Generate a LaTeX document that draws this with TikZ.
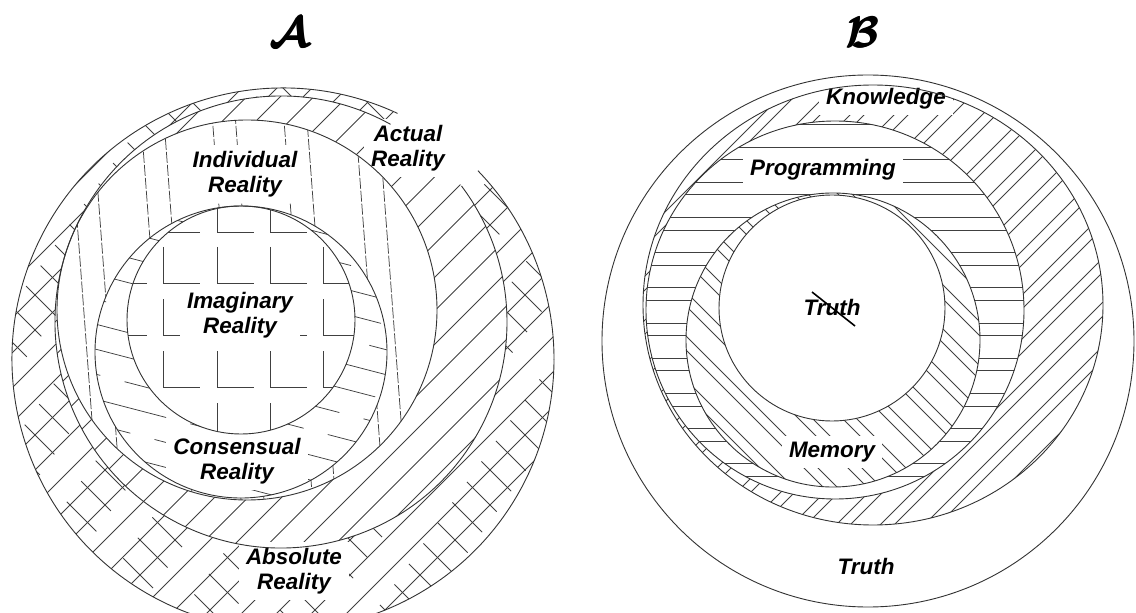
\documentclass[tikz,border=0pt]{standalone}
\usepackage{amsmath}
\usepackage{fontspec}
\setmainfont{Liberation Sans}
\begin{document}
\begin{tikzpicture}[x=1bp,y=-1bp,
  outline/.style={line width=0.9bp, draw=black!80},
  hatch/.style={line width=0.75bp, draw=black!75},
  lab/.style={font=\fontsize{22.5}{25}\selectfont\bfseries\itshape, align=center,
    fill=white, inner xsep=7bp, inner ysep=6bp, text=black},
  ttl/.style={scale=4.3, text=black}]
\useasboundingbox (0,0) rectangle (1136,613);

% ================= Panel A =================
% Absolute reality: cross-hatch between the two outer circles, open at upper right
\begin{scope}[even odd rule]
  \clip (283,359) circle[radius=271] (281,322) circle[radius=226];
  \clip (283,359) -- (714,-58) -- (1200,-58) -- (1200,900) -- (-300,900)
        -- (-300,-300) -- (537,-300) -- (537,-185) -- cycle;
  \foreach \k in {-6,...,18}
    \draw[hatch] ({435+35*\k-700},700) -- ({435+35*\k+100},-100);
  \foreach \k in {0,...,23} {
    \pgfmathsetmacro\ph{mod(\k*29,80)}
    \draw[hatch, dash pattern=on 42bp off 38bp, dash phase=\ph bp]
      ({-470+35*\k-100},-100) -- ({-470+35*\k+700},700);
  }
\end{scope}

% Actual reality: diagonal hatch
\begin{scope}[even odd rule]
  \clip (281,322) circle[radius=226] (247,310) circle[radius=190];
  \foreach \k in {-4,...,17}
    \draw[hatch] ({377+33.5*\k-700},700) -- ({377+33.5*\k+100},-100);
\end{scope}

% Individual reality: near-vertical broken lines in pairs
\begin{scope}[even odd rule]
  \clip (247,310) circle[radius=190] (241,352) circle[radius=146];
  \foreach \xa in {11.5,34.5,83,106,154.5,177.5,226,249,297.5,320.5,369,392,440,463}
    \draw[hatch, dash pattern=on 11bp off 2bp] ({\xa-15},100) -- ({\xa+16.5},520);
\end{scope}

% Consensual reality: slanted dashed lines
\begin{scope}[even odd rule]
  \clip (241,352) circle[radius=146] (241,320) circle[radius=114];
  \foreach \k in {-7,...,6} {
    \pgfmathsetmacro\ph{mod(\k*37+300,105)}
    \draw[hatch, dash pattern=on 80bp off 25bp, dash phase=\ph bp]
      (80,{362+25*\k-41.9}) -- (400,{362+25*\k+41.3});
  }
\end{scope}

% Imaginary reality: broken grid of corners
\begin{scope}
  \clip (241,320) circle[radius=114];
  \foreach \gx in {110,163,217,270,323,377}
    \foreach \gy in {180,232,283,335,387,439}
      \draw[hatch] (\gx,{\gy-36}) -- (\gx,\gy) -- ({\gx+37},\gy);
\end{scope}

\node[lab] (indiv) at (245,174) {Individual\\Reality};
\node[lab] (actual) at (408,148) {Actual\\Reality};
\node[lab] (imag) at (240,315) {Imaginary\\Reality};
\node[lab] (cons) at (237,461) {Consensual\\Reality};
\node[lab] (absol) at (294,571) {Absolute\\Reality};

\draw[outline] (283,359) ++(-65:271) arc[start angle=-65, end angle=-404, radius=271];
\draw[outline] (281,322) ++(-61:226) arc[start angle=-61, end angle=-397, radius=226];
\draw[outline] (247,310) circle[radius=190];
\draw[outline] (241,352) circle[radius=146];
\draw[outline] (241,320) circle[radius=114];

% heavy title letter, overprinted for extra weight
\node[ttl] (titleA) at (289,33) {$\boldsymbol{\mathcal{A}}$};
\node[ttl] (titleAw) at (290,33) {$\boldsymbol{\mathcal{A}}$};
\node[ttl] (titleAh) at (289.5,32.2) {$\boldsymbol{\mathcal{A}}$};

% ================= Panel B =================
% Knowledge: paired diagonal lines
\begin{scope}[even odd rule]
  \clip (873,305) ellipse[x radius=230, y radius=220] (835,310) circle[radius=189];
  \foreach \k in {-7,...,10} {
    \draw[hatch] ({1097+44*\k-700},700) -- ({1097+44*\k+100},-100);
    \draw[hatch] ({1111+44*\k-700},700) -- ({1111+44*\k+100},-100);
  }
\end{scope}

% Programming: paired horizontal lines
\begin{scope}[even odd rule]
  \clip (835,310) circle[radius=189] (833,340) circle[radius=147];
  \foreach \k in {-1,...,10} {
    \draw[hatch] (600,{147+35.2*\k}) -- (1100,{147+35.2*\k});
    \draw[hatch] (600,{159.5+35.2*\k}) -- (1100,{159.5+35.2*\k});
  }
\end{scope}

% Memory: paired back-slanted lines
\begin{scope}[even odd rule]
  \clip (833,340) circle[radius=147] (832,308) circle[radius=113];
  \foreach \k in {-7,...,5} {
    \draw[hatch] ({512+44*\k+150},150) -- ({512+44*\k+520},520);
    \draw[hatch] ({526+44*\k+150},150) -- ({526+44*\k+520},520);
  }
\end{scope}

\node[lab] (know) at (886,99) {Knowledge};
\node[lab] (prog) at (823,170) {Programming};
\node[lab] (mem) at (832,452) {Memory};
\node[lab, fill=none] (truthin) at (832,307) {Truth};
\node[lab] (truthout) at (866,566) {Truth};
\draw[line width=1.6bp] ([shift={(-20,-15)}]truthin.center) -- ([shift={(23,19)}]truthin.center);

\draw[outline] (868,341) circle[radius=266];
\draw[outline] (873,305) ellipse[x radius=230, y radius=220];
\draw[outline] (835,310) circle[radius=189];
\draw[outline] (833,340) circle[radius=147];
\draw[outline] (832,308) circle[radius=113];

\node[ttl] (titleB) at (862,33) {$\boldsymbol{\mathcal{B}}$};
\node[ttl] (titleBw) at (863,33) {$\boldsymbol{\mathcal{B}}$};
\node[ttl] (titleBh) at (862.5,32.2) {$\boldsymbol{\mathcal{B}}$};
\end{tikzpicture}
\end{document}
